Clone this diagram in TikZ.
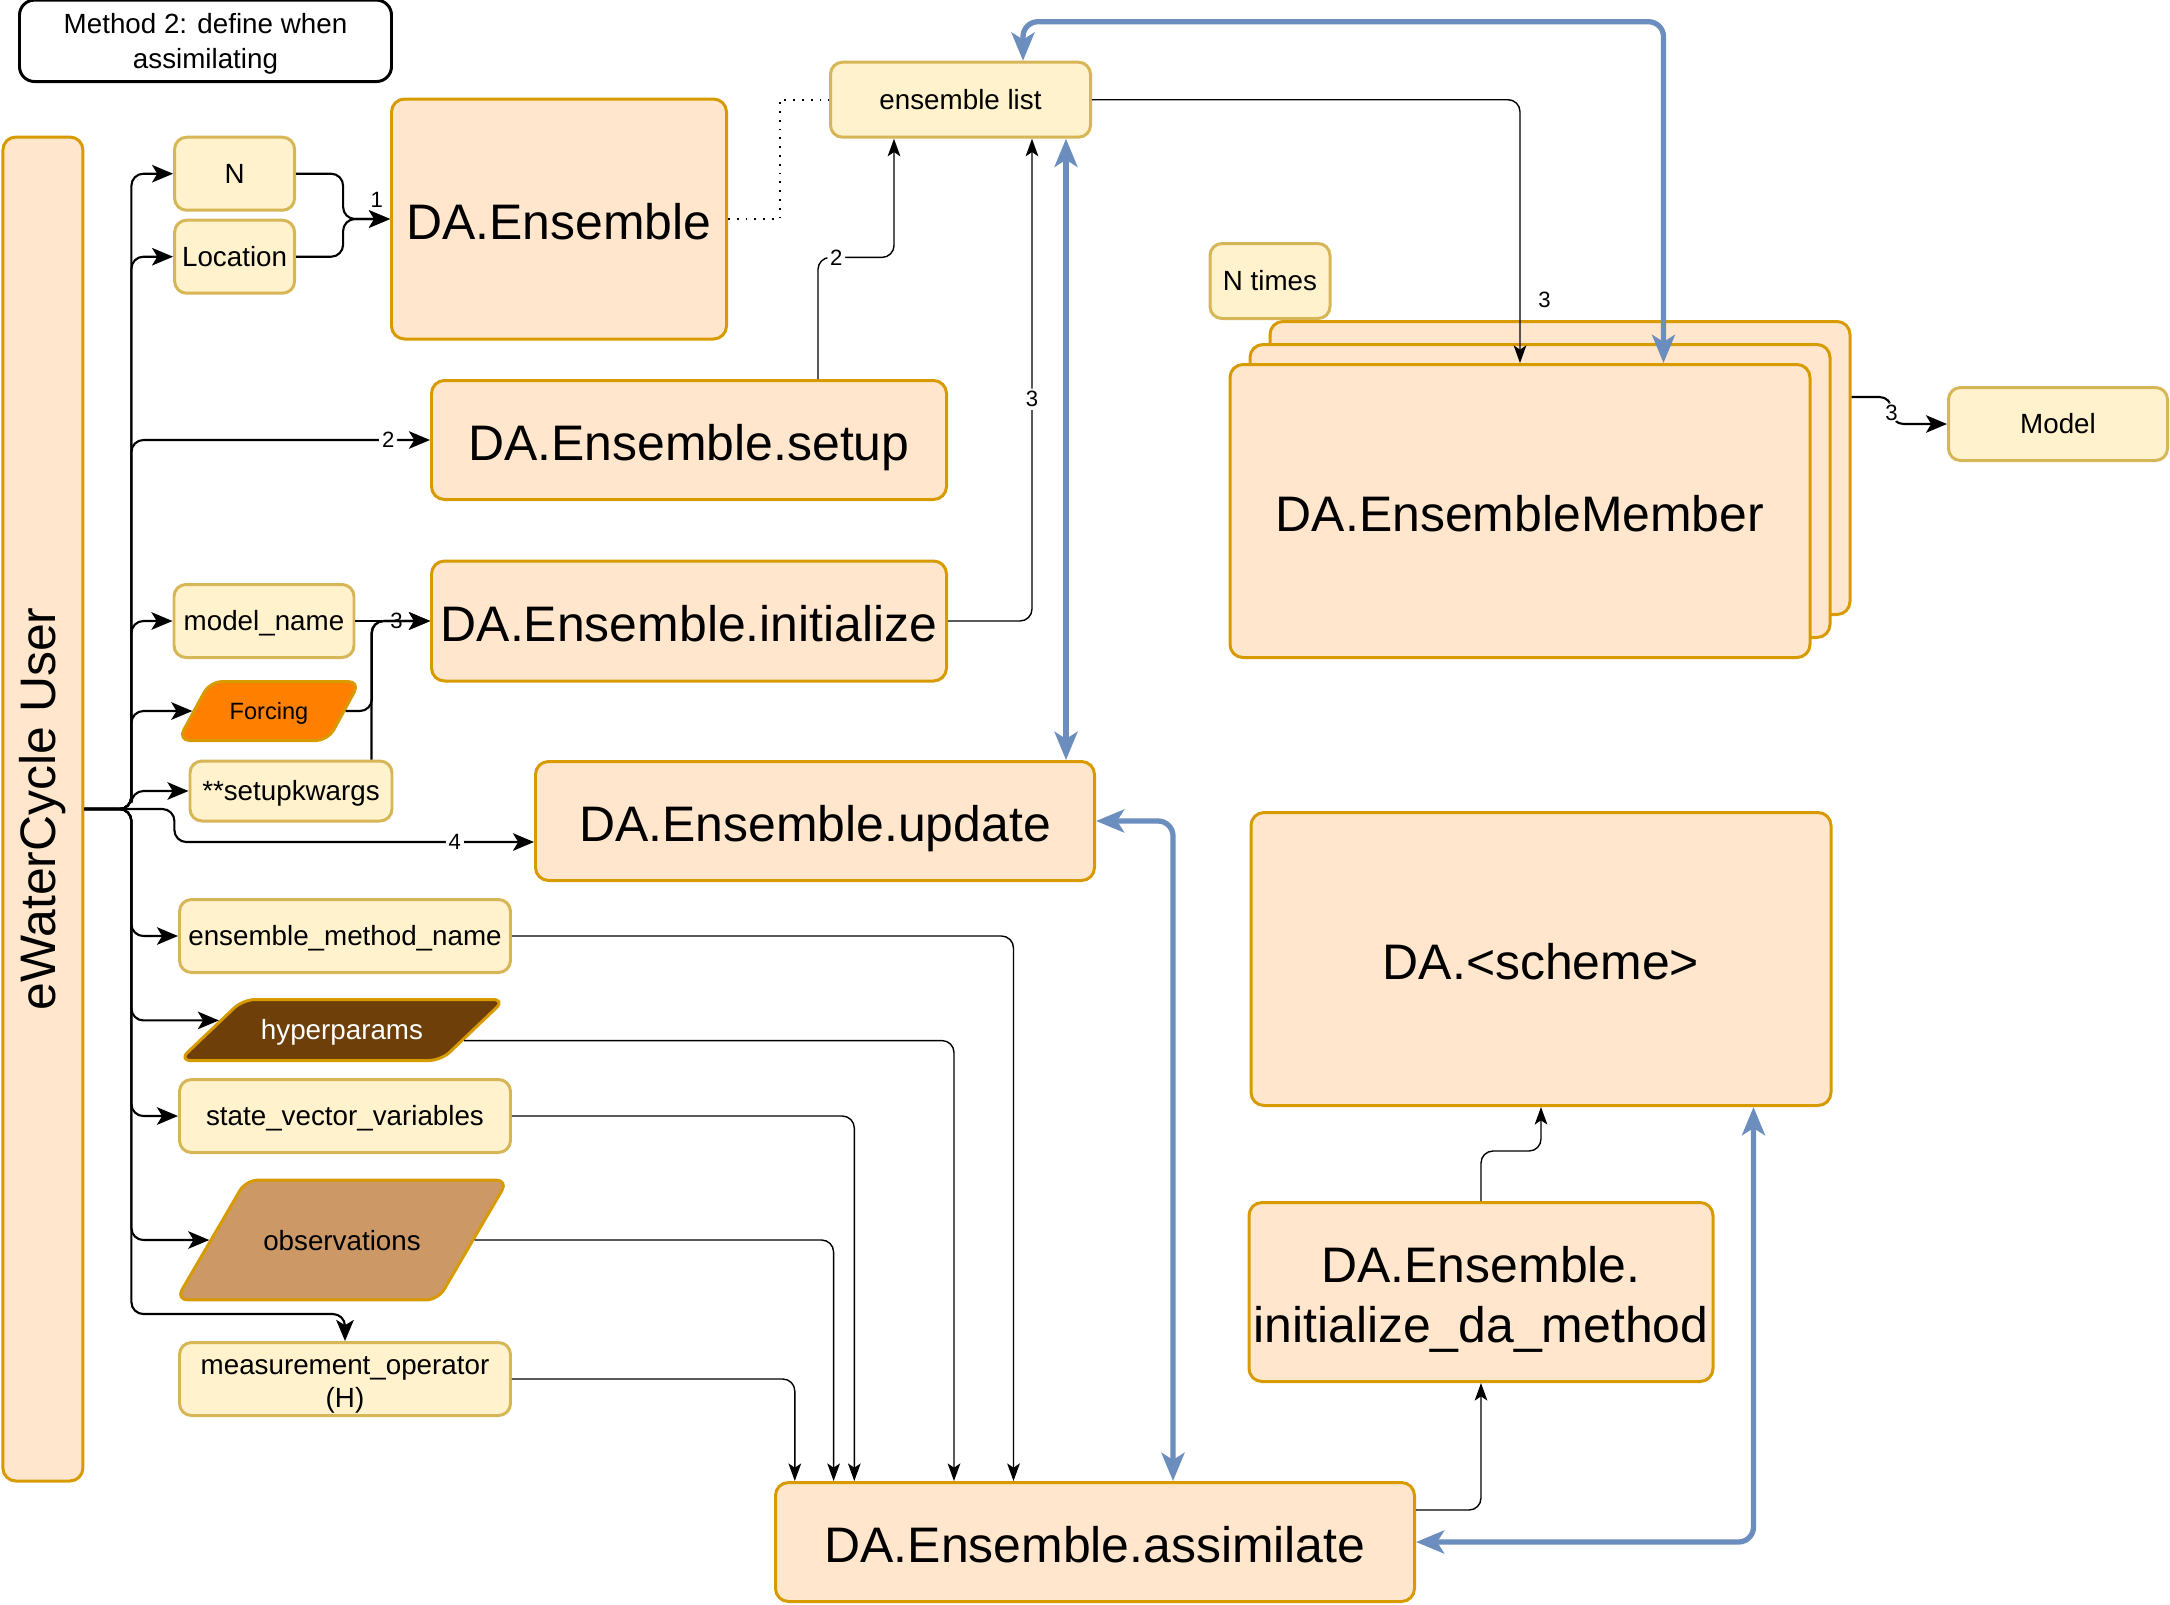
\documentclass[tikz,border=0pt]{standalone}
\usepackage{fontspec}
\setmainfont{Liberation Sans}
\usepackage{graphicx}
\usetikzlibrary{arrows.meta,calc,shapes.geometric}

\definecolor{peach}{HTML}{FFE6CC}
\definecolor{peachline}{HTML}{D79B00}
\definecolor{cream}{HTML}{FFF2CC}
\definecolor{creamline}{HTML}{D6B656}
\definecolor{linkblue}{HTML}{6C8EBF}
\definecolor{forcingorange}{HTML}{FF8000}
\definecolor{hypbrown}{HTML}{6F3F0A}
\definecolor{obstan}{HTML}{CC9966}

\begin{document}
\begin{tikzpicture}[y=-1cm,
		bigbox/.style={draw=peachline, fill=peach, line width=0.85pt, rounded corners=1.3mm, inner sep=0pt, align=center, text height=11.4pt, text depth=0pt, font=\fontsize{14.2}{17}\selectfont},
		smallbox/.style={draw=creamline, fill=cream, line width=0.85pt, rounded corners=1.2mm, inner sep=0pt, align=center, minimum height=0.73cm, text height=6.2pt, text depth=0.6pt, font=\fontsize{7.9}{9.5}\selectfont},
		datafile/.style={trapezium, trapezium stretches body, draw=peachline, line width=0.85pt, rounded corners=1.2mm, inner sep=0pt, font=\fontsize{7.9}{9.5}\selectfont},
		userflow/.style={-{Stealth[length=6pt,width=5pt,inset=1.5pt]}, line width=0.6pt, rounded corners=1.2mm},
		flow/.style={-{Stealth[length=5pt,width=3.6pt,inset=1.2pt]}, line width=0.4pt, rounded corners=1.2mm},
		bluelink/.style={{Stealth[length=8pt,width=6.5pt,inset=2pt]}-{Stealth[length=8pt,width=6.5pt,inset=2pt]}, draw=linkblue, line width=1.5pt, rounded corners=1.5mm},
		lbl/.style={font=\fontsize{6.3}{7}\selectfont, inner sep=0.8pt, fill=white}]
			\useasboundingbox (0,0) rectangle (21.70,16.04); % page size of the reference
			\def\stk{0.2} % offset of the stacked member boxes
			% title
			\node[draw, line width=0.85pt, rounded corners=1.5mm, minimum width=3.72cm, minimum height=0.73cm, align=center, text height=16pt, text depth=0.5pt, font=\fontsize{7.9}{9.8}\selectfont] (ttl) at (2.055,0.408) {Method 2: define when\\assimilating};
			% user column
			\node[bigbox, text height=, text depth=, minimum width=0.80cm, minimum height=13.44cm] (usr) at (0.429,8.09) {\rotatebox{90}{eWaterCycle User}};
			\coordinate (hub) at ($(usr.east)+(0.47,0)$);
			% inputs
			\node[smallbox, minimum width=1.20cm] (N) at (2.346,1.737) {N};
			\node[smallbox, minimum width=1.20cm] (loc) at (2.346,2.567) {Location};
			\node[smallbox, minimum width=1.80cm] (mdl) at (2.64,6.21) {model\_name};
			\node[datafile, fill=forcingorange, font=\fontsize{6.7}{8}\selectfont, trapezium left angle=61.5, trapezium right angle=118.5, text height=10.8pt, text depth=6pt, minimum width=1.82cm] (frc) at (2.69,7.11) {Forcing};
			\node[smallbox, minimum width=2.02cm, minimum height=0.60cm] (kw) at (2.91,7.91) {**setupkwargs};
			\node[smallbox, minimum width=3.31cm] (emn) at (3.45,9.36) {ensemble\_method\_name};
			\node[datafile, fill=hypbrown, text=white, trapezium left angle=43.6, trapezium right angle=136.4, text height=11.5pt, text depth=5.85pt, minimum width=3.26cm] (hyp) at (3.42,10.30) {hyperparams};
			\node[smallbox, minimum width=3.31cm] (svv) at (3.45,11.16) {state\_vector\_variables};
			\node[datafile, fill=obstan, trapezium left angle=59.7, trapezium right angle=120.3, text height=19.9pt, text depth=14.2pt, minimum width=3.32cm] (obs) at (3.42,12.40) {observations};
			\node[smallbox, minimum width=3.31cm, text height=16.9pt, text depth=0.6pt] (meas) at (3.45,13.79) {measurement\_operator\\(H)};
			% methods
			\node[bigbox, minimum width=3.35cm, minimum height=2.40cm] (ens) at (5.59,2.19) {DA.Ensemble};
			\node[smallbox, minimum width=2.60cm, minimum height=0.75cm] (list) at (9.605,0.997) {ensemble list};
			\node[bigbox, minimum width=5.15cm, minimum height=1.19cm] (setup) at (6.89,4.40) {DA.Ensemble.setup};
			\node[bigbox, minimum width=5.15cm, minimum height=1.20cm] (init) at (6.89,6.21) {DA.Ensemble.initialize};
			\node[bigbox, minimum width=5.59cm, minimum height=1.19cm] (upd) at (8.15,8.21) {DA.Ensemble.update};
			\node[bigbox, minimum width=6.39cm, minimum height=1.19cm] (asm) at (10.95,15.42) {DA.Ensemble.assimilate};
			\node[smallbox, minimum width=1.20cm, minimum height=0.75cm] (ntimes) at (12.70,2.81) {N times};
			\node[bigbox, minimum width=5.80cm, minimum height=2.93cm] (mem3) at (15.20+2*\stk,5.11-2*\stk-0.03) {};
			\node[bigbox, minimum width=5.80cm, minimum height=2.93cm] (mem2) at (15.20+\stk,5.11-\stk) {};
			\node[bigbox, minimum width=5.80cm, minimum height=2.93cm] (mem) at (15.20,5.11) {DA.EnsembleMember};
			\node[smallbox, minimum width=2.19cm] (model) at (20.58,4.24) {Model};
			\node[bigbox, minimum width=5.80cm, minimum height=2.93cm] (sch) at (15.41,9.59) {DA.<scheme>};
			\node[bigbox, minimum width=4.64cm, minimum height=1.79cm, text height=29.2pt, text depth=0.5pt] (ida) at (14.81,12.92) {DA.Ensemble.\\initialize\_da\_method};
			% user branches
			\draw[userflow] (usr.east) -- (hub) |- (N.west);
			\draw[userflow] (usr.east) -- (hub) |- (loc.west);
			\draw[userflow] (usr.east) -- (hub) |- (setup.west) node[pos=0.93, lbl]{2};
			\draw[userflow] (usr.east) -- (hub) |- (mdl.west);
			\draw[userflow] (usr.east) -- (hub) |- (frc.west);
			\draw[userflow] (usr.east) -- (hub) |- (kw.west);
			\draw[userflow] (usr.east) -- ++(0.9,0) |- ($(upd.west)+(0,0.21)$) node[pos=0.89, lbl]{4};
			\draw[userflow] (usr.east) -- (hub) |- (emn.west);
			\draw[userflow] (usr.east) -- (hub) |- ($(hyp.west)!0.3!(hyp.top left corner)$);
			\draw[userflow] (usr.east) -- (hub) |- (svv.west);
			\draw[userflow] (usr.east) -- (hub) |- (obs.west);
			\draw[userflow] (usr.east) -- (hub) |- ($(meas.north)+(0,-0.27)$) -- (meas.north);
			% into the constructor
			\draw[userflow] (N.east) -- ++(0.47,0) |- (ens.west) node[pos=0.86, above=3pt, font=\fontsize{6.3}{7}\selectfont, inner sep=0pt]{1};
			\draw[userflow] (loc.east) -- ++(0.47,0) |- (ens.west);
			\draw[dotted, line width=0.5pt] (ens.east) -- ++(0.52,0) |- (list.west);
			% setup and initialize
			\draw[flow] ($(setup.north)+(1.29,0)$) -- ++(0,-1.216) -| ($(list.south west)+(0.65,0)$) node[pos=0.12, lbl]{2};
			\draw[flow] (init.east) -| ($(list.south east)+(-0.6,0)$) node[pos=0.73, lbl]{3};
			\draw[userflow] (mdl.east) -- (init.west) node[pos=0.55, lbl]{3};
			\draw[userflow] (frc.east) -| ($(mdl.east)!0.22!(init.west)$) -- (init.west);
			\draw[userflow] ($(kw.north east)+(-0.22,0)$) |- (init.west);
			% members
			\draw[flow] (list.east) -| (mem.north) node[pos=0.88, right=5pt, font=\fontsize{6.3}{7}\selectfont, inner sep=0pt]{3};
			\draw[userflow] ($(mem3.north east)!0.26!(mem3.south east)$) -- ++(0.4,0) |- (model.west) node[pos=0.3, lbl]{3};
			% inputs of assimilate
			\draw[flow] (emn.east) -| ($(asm.north west)+(2.395,0)$);
			\draw[flow] ($(hyp.east)!0.33!(hyp.bottom right corner)$) -| ($(asm.north west)+(1.80,0)$);
			\draw[flow] (svv.east) -| ($(asm.north west)+(0.803,0)$);
			\draw[flow] (obs.east) -| ($(asm.north west)+(0.596,0)$);
			\draw[flow] (meas.east) -| ($(asm.north west)+(0.208,0)$);
			\draw[flow] ($(asm.north east)+(0,0.29)$) -| (ida.south);
			\draw[flow] (ida.north) -- ++(0,-0.5) -| (sch.south);
			% blue links
			\coordinate (lb) at ($(list.south west)+(2.37,0)$);
			\draw[bluelink] ($(list.north west)+(1.94,0)$) -- ++(0,-0.39) -| ($(mem.north west)+(4.35,0)$);
			\draw[bluelink] (lb) -- (lb |- upd.north);
			\draw[bluelink] (upd.east) -| ($(asm.north west)+(3.99,0)$);
			\draw[bluelink] (asm.east) -| ($(sch.south west)+(5.04,0)$);
\end{tikzpicture}
\end{document}
